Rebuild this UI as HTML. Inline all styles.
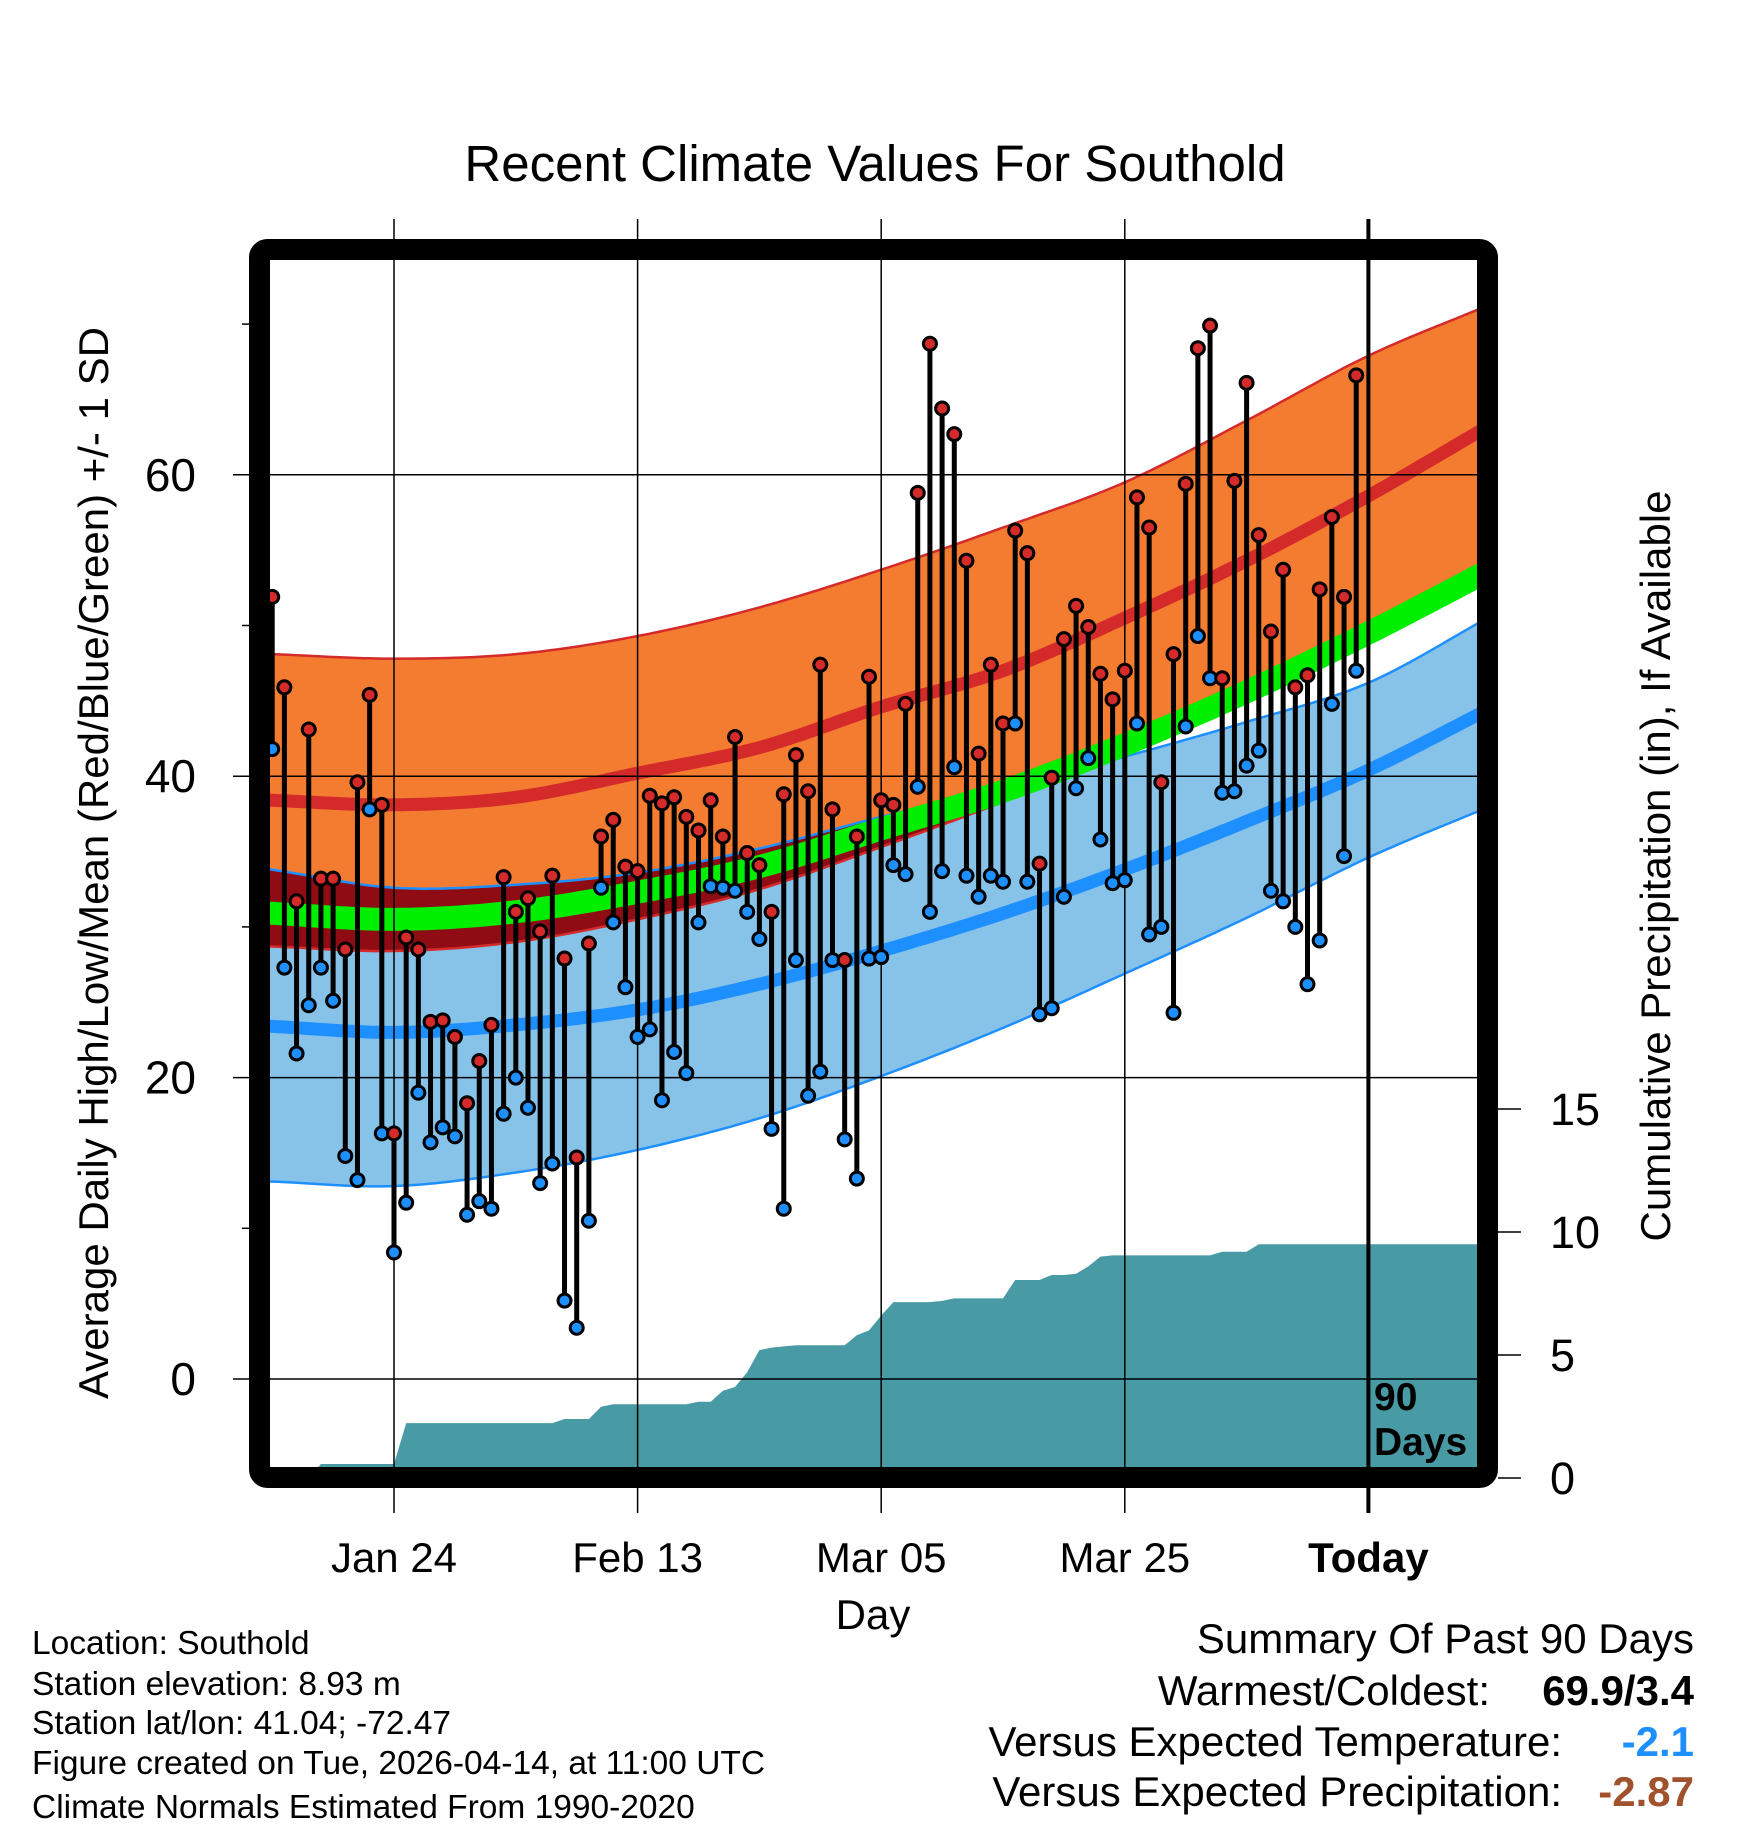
<!DOCTYPE html>
<html><head><meta charset="utf-8"><style>
html,body{margin:0;padding:0;background:#fff}
svg{display:block;font-family:"Liberation Sans",sans-serif}
</style></head><body>
<svg id="chart" width="1748" height="1828" viewBox="0 0 1748 1828" xmlns="http://www.w3.org/2000/svg">
<defs>
<clipPath id="plotClip"><rect x="270" y="260" width="1208" height="1210"/></clipPath>
<clipPath id="orangeClip"><path id="orangeClipPath" d=""/></clipPath>
</defs>
<text x="875" y="181" font-size="51" text-anchor="middle">Recent Climate Values For Southold</text>
<g id="plot" clip-path="url(#plotClip)"></g>
<g id="axes"></g>
<text transform="translate(108,863) rotate(-90)" font-size="42" text-anchor="middle">Average Daily High/Low/Mean (Red/Blue/Green) +/- 1 SD</text>
<text transform="translate(1670,866) rotate(-90)" font-size="42" text-anchor="middle">Cumulative Precipitation (in), If Available</text>
<text x="873" y="1629" font-size="42" text-anchor="middle">Day</text>
<g font-size="33.5">
<text x="32" y="1654">Location: Southold</text>
<text x="32" y="1695">Station elevation: 8.93 m</text>
<text x="32" y="1734">Station lat/lon: 41.04; -72.47</text>
<text x="32" y="1774">Figure created on Tue, 2026-04-14, at 11:00 UTC</text>
<text x="32" y="1818">Climate Normals Estimated From 1990-2020</text>
</g>
<g font-size="42" text-anchor="end">
<text x="1694" y="1653">Summary Of Past 90 Days</text>
<text x="1490" y="1705">Warmest/Coldest:</text>
<text x="1694" y="1705" font-weight="bold">69.9/3.4</text>
<text x="1562" y="1756">Versus Expected Temperature:</text>
<text x="1694" y="1756" font-weight="bold" fill="#1e8fff">-2.1</text>
<text x="1562" y="1806">Versus Expected Precipitation:</text>
<text x="1694" y="1806" font-weight="bold" fill="#a0522d">-2.87</text>
</g>
</svg>
<script>
const normDays=[-10,0,10,20,30,40,50,60,70,80,90];
const highUpper=[48.1,47.8,48.1,49.3,51.2,53.7,56.5,59.5,63.6,67.9,71.3];
const highMean=[38.4,38.1,38.6,40.2,41.9,44.6,47.0,50.5,54.3,58.6,63.3];
const highLower=[28.7,28.4,29.0,30.5,32.5,35.3,38.3,41.6,45.2,49.3,54.5];
const avgMean=[30.9,30.5,31.0,32.3,34.0,36.5,39.0,42.1,45.6,49.5,53.7];
const lowUpper=[33.8,32.6,32.8,33.6,35.2,37.3,39.2,41.3,43.6,46.2,50.6];
const lowMean=[23.4,23.0,23.5,24.5,26.2,28.4,30.9,33.8,37.0,40.4,44.5];
const lowLower=[13.1,12.8,13.7,15.2,17.3,20.1,23.3,26.9,30.6,34.6,38.0];
const highs=[51.9,45.9,31.7,43.1,33.2,33.2,28.5,39.6,45.4,38.1,16.3,29.3,28.5,23.7,23.8,22.7,18.3,21.1,23.5,33.3,31.0,31.9,29.7,33.4,27.9,14.7,28.9,36.0,37.1,34.0,33.7,38.7,38.2,38.6,37.3,36.4,38.4,36.0,42.6,34.9,34.1,31.0,38.8,41.4,39.0,47.4,37.8,27.8,36.0,46.6,38.4,38.1,44.8,58.8,68.7,64.4,62.7,54.3,41.5,47.4,43.5,56.3,54.8,34.2,39.9,49.1,51.3,49.9,46.8,45.1,47.0,58.5,56.5,39.6,48.1,59.4,68.4,69.9,46.5,59.6,66.1,56.0,49.6,53.7,45.9,46.7,52.4,57.2,51.9,66.6];
const lows=[41.8,27.3,21.6,24.8,27.3,25.1,14.8,13.2,37.8,16.3,8.4,11.7,19.0,15.7,16.7,16.1,10.9,11.8,11.3,17.6,20.0,18.0,13.0,14.3,5.2,3.4,10.5,32.6,30.3,26.0,22.7,23.2,18.5,21.7,20.3,30.3,32.7,32.6,32.4,31.0,29.2,16.6,11.3,27.8,18.8,20.4,27.8,15.9,13.3,27.9,28.0,34.1,33.5,39.3,31.0,33.7,40.6,33.4,32.0,33.4,33.0,43.5,33.0,24.2,24.6,32.0,39.2,41.2,35.8,32.9,33.1,43.5,29.5,30.0,24.3,43.3,49.3,46.5,38.9,39.0,40.7,41.7,32.4,31.7,30.0,26.2,29.1,44.8,34.7,47.0];
const precip=[0,0,0,0,0.57,0.57,0.57,0.57,0.57,0.57,0.57,2.23,2.23,2.23,2.23,2.23,2.23,2.23,2.23,2.23,2.23,2.23,2.23,2.23,2.4,2.4,2.4,2.9,3.0,3.0,3.0,3.0,3.0,3.0,3.0,3.1,3.1,3.55,3.7,4.3,5.2,5.3,5.35,5.4,5.4,5.4,5.4,5.4,5.8,6.0,6.6,7.15,7.15,7.15,7.15,7.2,7.3,7.3,7.3,7.3,7.3,8.05,8.05,8.05,8.25,8.25,8.3,8.6,9.0,9.05,9.05,9.05,9.05,9.05,9.05,9.05,9.05,9.05,9.2,9.2,9.2,9.5,9.5,9.5,9.5,9.5,9.5,9.5,9.5,9.5];
const tempTicks=[0,20,40,60];
const tempMinor=[10,30,50,70];
const precipTicks=[0,5,10,15];
const dateLabels=["Jan 24","Feb 13","Mar 05","Mar 25","Today"];
const dateOffsets=[0,20,40,60,80];

const NS="http://www.w3.org/2000/svg";
const xDay=d=>394+12.18*d;
const yT=t=>1379-15.07*t;
const yP=p=>1478-24.6*p;
function mk(tag,attrs,parent){const e=document.createElementNS(NS,tag);for(const k in attrs)e.setAttribute(k,attrs[k]);parent.appendChild(e);return e;}
function interp(arr,d){
  let k=Math.floor((d-normDays[0])/10);k=Math.max(0,Math.min(normDays.length-2,k));
  const t=(d-normDays[k])/10;
  const p1=arr[k],p2=arr[k+1],p0=k>0?arr[k-1]:2*p1-p2,p3=k+2<arr.length?arr[k+2]:2*p2-p1;
  const t2=t*t,t3=t2*t;
  return 0.5*((2*p1)+(-p0+p2)*t+(2*p0-5*p1+4*p2-p3)*t2+(-p0+3*p1-3*p2+p3)*t3);
}
const ds=[];for(let d=-11;d<=90;d+=0.5)ds.push(d);
function line(arr){return ds.map((d,i)=>(i?'L':'M')+xDay(d).toFixed(1)+' '+yT(interp(arr,d)).toFixed(1)).join(' ');}
function band(up,lo){const a=ds.map((d,i)=>(i?'L':'M')+xDay(d).toFixed(1)+' '+yT(interp(up,d)).toFixed(1)).join(' ');
  const b=ds.slice().reverse().map(d=>'L'+xDay(d).toFixed(1)+' '+yT(interp(lo,d)).toFixed(1)).join(' ');return a+' '+b+' Z';}

const plot=document.getElementById('plot');
const axes=document.getElementById('axes');
const blueBand=mk('path',{d:band(lowUpper,lowLower),fill:'#87c3e8'},plot);


const orangeBand=mk('path',{d:band(highUpper,highLower),fill:'#f47c30'},plot);


document.getElementById('orangeClipPath').setAttribute('d',band(highUpper,highLower));
const overlap=mk('path',{d:band(lowUpper,lowLower),fill:'#900c15','clip-path':'url(#orangeClip)'},plot);


[[highUpper,'#d42a2a','high-upper-edge'],[highLower,'#d42a2a','high-lower-edge'],[lowUpper,'#1e8fff','low-upper-edge'],[lowLower,'#1e8fff','low-lower-edge']].forEach(([a,c,n])=>{
  const e=mk('path',{d:line(a),fill:'none',stroke:c,'stroke-width':2.5},plot);
  
  
});
const hm=mk('path',{d:line(highMean),fill:'none',stroke:'#d42a2a','stroke-width':13},plot);


const lm=mk('path',{d:line(lowMean),fill:'none',stroke:'#1e8fff','stroke-width':13},plot);


const am=mk('path',{d:line(avgMean),fill:'none',stroke:'#00ee00','stroke-width':23},plot);



let pd='M'+xDay(-10)+' '+yP(0);
precip.forEach((p,i)=>{pd+=' L'+xDay(i-10).toFixed(1)+' '+yP(p).toFixed(1);});
pd+=' L1480 '+yP(precip[precip.length-1]).toFixed(1)+' L1480 1480 L'+xDay(-10)+' 1480 Z';
const pa=mk('path',{d:pd,fill:'#489ba4'},plot);



tempTicks.forEach(t=>{
  const g=mk('line',{x1:233,x2:1478,y1:yT(t),y2:yT(t),stroke:'#000','stroke-width':1.5},axes);
  
  
  const l=mk('text',{x:196,y:yT(t)+16,'font-size':46,'text-anchor':'end'},axes);l.textContent=t;
  
  
});
tempMinor.forEach(t=>{
  const m=mk('line',{x1:242,x2:250,y1:yT(t),y2:yT(t),stroke:'#000','stroke-width':1.5},axes);
  
  
});
precipTicks.forEach(p=>{
  const m=mk('line',{x1:1498,x2:1521,y1:yP(p),y2:yP(p),stroke:'#000','stroke-width':1.5},axes);
  
  
  const l=mk('text',{x:1550,y:yP(p)+16,'font-size':45},axes);l.textContent=p;
  
  
});
dateOffsets.forEach((d,i)=>{
  const today=dateLabels[i]==='Today';
  const g=mk('line',{x1:xDay(d),x2:xDay(d),y1:219,y2:1513,stroke:'#000','stroke-width':today?4:1.5},axes);
  
  
  const l=mk('text',{x:xDay(d),y:1572,'font-size':42,'text-anchor':'middle','font-weight':today?'bold':'normal'},axes);
  l.textContent=dateLabels[i];
  
  
});

const pts=mk('g',{'clip-path':'url(#plotClip)'},axes);


highs.forEach((h,i)=>{
  const x=xDay(i-10);
  const s=mk('line',{x1:x,x2:x,y1:yT(h),y2:yT(lows[i]),stroke:'#000','stroke-width':5},pts);
  
  
});
highs.forEach((h,i)=>{
  const x=xDay(i-10);
  const lo=mk('circle',{cx:x,cy:yT(lows[i]),r:6.5,fill:'#1e8fff',stroke:'#000','stroke-width':3},pts);
  
  
  const hi=mk('circle',{cx:x,cy:yT(h),r:6.5,fill:'#d42a2a',stroke:'#000','stroke-width':3},pts);
  
  
});
const t1=mk('text',{x:1374,y:1410,'font-size':39,'font-weight':'bold'},axes);t1.textContent='90';


const t2=mk('text',{x:1374,y:1455,'font-size':39,'font-weight':'bold'},axes);t2.textContent='Days';


const fr=mk('rect',{x:259.5,y:249.5,width:1228,height:1228,rx:8,fill:'none',stroke:'#000','stroke-width':21},axes);


</script>
</body></html>
